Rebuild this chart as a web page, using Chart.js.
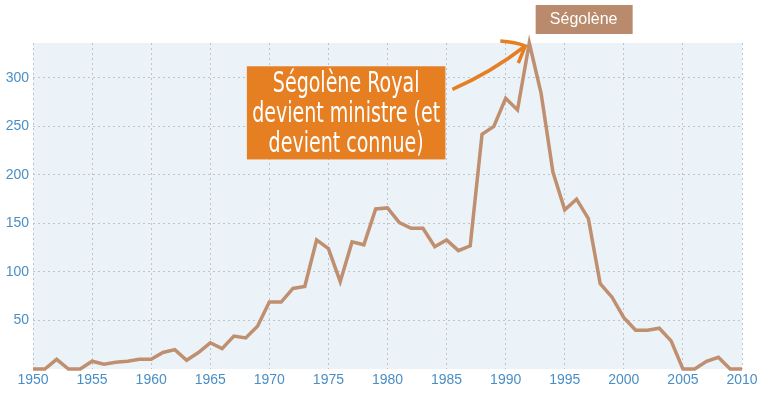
<!DOCTYPE html>
<html>
<head>
<meta charset="utf-8">
<script src="https://cdn.jsdelivr.net/npm/chart.js@4/dist/chart.umd.min.js"></script>
<style>
  html, body { margin: 0; padding: 0; background: #fff; }
</style>
</head>
<body>
<canvas id="myChart" width="773" height="394"></canvas>
<script>
const years = [];
for (let yr = 1950; yr <= 2010; yr++) years.push(yr);

const counts = [
  0, 0, 10, 0, 0, 8, 5, 7, 8, 10,
  10, 17, 20, 9, 17, 27, 21, 34, 32, 44,
  69, 69, 83, 85, 133, 124, 90, 131, 128, 165,
  166, 151, 145, 145, 126, 133, 122, 127, 242, 250,
  279, 267, 336, 284, 203, 164, 175, 155, 88, 74,
  53, 40, 40, 42, 29, 0, 0, 8, 12, 0,
  0
];

const seriesName = 'Ségolène';
const noteLines = ['Ségolène Royal', 'devient ministre (et', 'devient connue)'];
const noteYear = 1992;

const points = years.map((yr, i) => ({ x: yr, y: counts[i] }));

const bgPlugin = {
  id: 'plotBg',
  beforeDraw(chart) {
    const { ctx, chartArea: a } = chart;
    ctx.save();
    ctx.fillStyle = '#ebf3f8';
    ctx.fillRect(a.left, a.top, a.right - a.left, a.bottom - a.top);
    ctx.restore();
  }
};

const notePlugin = {
  id: 'notes',
  afterDraw(chart) {
    const { ctx } = chart;
    const xs = chart.scales.x, ys = chart.scales.y;

    // series label on top
    const lx = xs.getPixelForValue(1996.6);
    ctx.save();
    ctx.fillStyle = '#b98b6c';
    ctx.fillRect(lx - 48, 5, 97, 29);
    ctx.fillStyle = '#fff';
    ctx.font = '16px "Liberation Sans", Arial, sans-serif';
    ctx.textAlign = 'center';
    ctx.textBaseline = 'middle';
    ctx.fillText(seriesName, lx, 20);

    // orange note box
    const bx1 = xs.getPixelForValue(1968.1), bx2 = xs.getPixelForValue(1984.9);
    const by1 = ys.getPixelForValue(312), by2 = ys.getPixelForValue(216);
    ctx.fillStyle = '#e67e22';
    ctx.fillRect(bx1, by1, bx2 - bx1, by2 - by1);
    ctx.fillStyle = '#fff';
    ctx.font = '29px "DejaVu Sans", sans-serif';
    const cx = (bx1 + bx2) / 2;
    const widest = Math.max(...noteLines.map(t => ctx.measureText(t).width));
    const k = 188 / widest;
    noteLines.forEach((t, i) => {
      ctx.save();
      ctx.translate(cx, by1 + 18 + i * 30);
      ctx.scale(k, 1);
      ctx.fillText(t, 0, 0);
      ctx.restore();
    });

    // arrow to peak
    const px = xs.getPixelForValue(noteYear) - 4;
    const py = ys.getPixelForValue(counts[years.indexOf(noteYear)]) + 3;
    const sx = bx2 + 7, sy = by1 + 23;
    ctx.strokeStyle = '#e67e22';
    ctx.lineWidth = 3.5;
    ctx.beginPath();
    ctx.moveTo(sx, sy);
    ctx.quadraticCurveTo((sx + px) / 2 + 2, (sy + py) / 2 + 5, px, py);
    ctx.stroke();
    ctx.beginPath();
    ctx.moveTo(px - 25, py - 5);
    ctx.quadraticCurveTo(px - 10, py - 4, px, py);
    ctx.lineTo(px - 7, py + 17);
    ctx.stroke();
    ctx.restore();
  }
};

const ctx = document.getElementById('myChart').getContext('2d');
const myChart = new Chart(ctx, {
  type: 'line',
  data: {
    datasets: [{
      label: seriesName,
      data: points,
      borderColor: '#bf8f6f',
      borderWidth: 3.5,
      pointRadius: 0,
      fill: false,
      tension: 0,
      clip: false
    }]
  },
  options: {
    responsive: false,
    animation: false,
    devicePixelRatio: 1,
    layout: { padding: { top: 43, right: 31, left: 0, bottom: 0 } },
    plugins: { legend: { display: false }, tooltip: { enabled: false } },
    scales: {
      x: {
        type: 'linear',
        min: 1950,
        max: 2010,
        afterFit(s) { s.height = 25; },
        ticks: {
          stepSize: 5,
          color: '#4a8ec6',
          font: { family: '"Liberation Sans", Arial, sans-serif', size: 14 },
          padding: 3,
          maxRotation: 0,
          callback: v => String(v)
        },
        grid: { color: '#c0c4c8', drawTicks: false },
        border: { display: false, dash: [2, 3] }
      },
      y: {
        min: 0,
        max: 336,
        afterFit(s) { s.width = 33; },
        afterBuildTicks(s) {
          s.ticks = [0, 50, 100, 150, 200, 250, 300].map(v => ({ value: v }));
        },
        ticks: {
          color: '#4a8ec6',
          font: { family: '"Liberation Sans", Arial, sans-serif', size: 14 },
          padding: 4,
          callback: v => (v === 0 ? '' : String(v))
        },
        grid: {
          color: c => (c.tick && c.tick.value === 0 ? 'rgba(0,0,0,0)' : '#c0c4c8'),
          drawTicks: false
        },
        border: { display: false, dash: [2, 3] }
      }
    }
  },
  plugins: [bgPlugin, notePlugin]
});
</script>
</body>
</html>
